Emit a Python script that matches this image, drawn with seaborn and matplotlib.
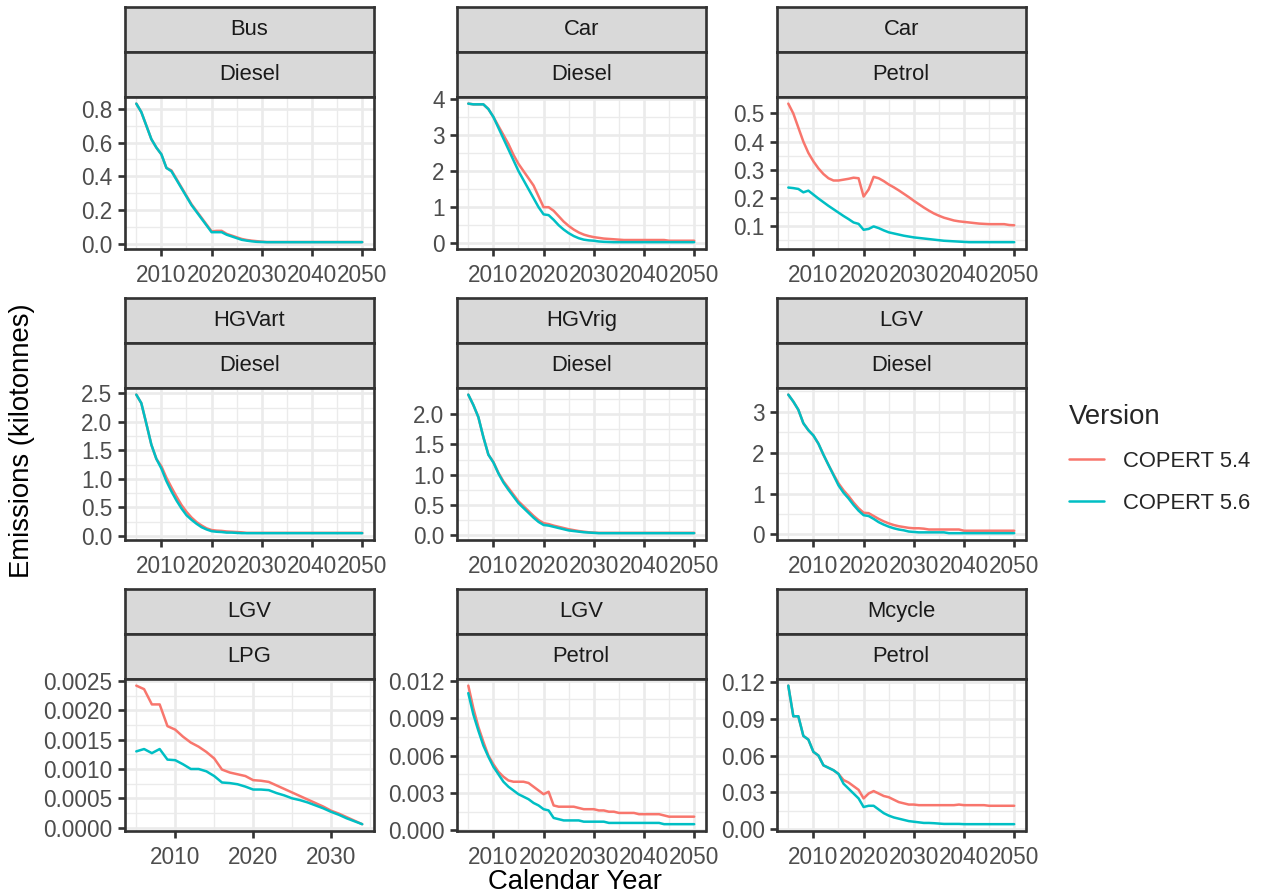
import matplotlib
matplotlib.use("Agg")
import matplotlib.pyplot as plt
import numpy as np
import pandas as pd
import seaborn as sns

YEARS = list(range(2005, 2051))
LPG_YEARS = list(range(2005, 2035))
VERSIONS = ["COPERT 5.4", "COPERT 5.6"]
PALETTE = {"COPERT 5.4": "#F8766D", "COPERT 5.6": "#00BFC4"}

bus_diesel_54 = [0.83, 0.78, 0.70, 0.62, 0.57, 0.53, 0.45, 0.435, 0.385, 0.335,
                 0.285, 0.235, 0.195, 0.155, 0.115, 0.075, 0.078, 0.078, 0.06, 0.05,
                 0.04, 0.03, 0.024, 0.02, 0.017, 0.014, 0.012, 0.012, 0.012, 0.012,
                 0.012, 0.012, 0.012, 0.012, 0.012, 0.012, 0.012, 0.012, 0.012, 0.012,
                 0.012, 0.012, 0.012, 0.012, 0.012, 0.012]
bus_diesel_56 = [0.83, 0.78, 0.70, 0.62, 0.57, 0.53, 0.45, 0.43, 0.38, 0.33,
                 0.28, 0.23, 0.19, 0.15, 0.11, 0.07, 0.07, 0.07, 0.055, 0.045,
                 0.035, 0.025, 0.02, 0.016, 0.013, 0.012, 0.011, 0.011, 0.011, 0.011,
                 0.011, 0.011, 0.011, 0.011, 0.011, 0.011, 0.011, 0.011, 0.011, 0.011,
                 0.011, 0.011, 0.011, 0.011, 0.011, 0.011]

car_diesel_54 = [3.87, 3.85, 3.85, 3.85, 3.72, 3.50, 3.25, 3.00, 2.75, 2.45,
                 2.20, 2.00, 1.80, 1.60, 1.30, 1.00, 1.00, 0.90, 0.75, 0.60,
                 0.48, 0.38, 0.30, 0.24, 0.20, 0.17, 0.15, 0.13, 0.12, 0.11,
                 0.10, 0.09, 0.09, 0.09, 0.09, 0.09, 0.09, 0.09, 0.09, 0.09,
                 0.07, 0.07, 0.07, 0.07, 0.07, 0.07]
car_diesel_56 = [3.87, 3.85, 3.85, 3.85, 3.72, 3.50, 3.20, 2.90, 2.60, 2.30,
                 2.00, 1.75, 1.50, 1.25, 1.00, 0.80, 0.78, 0.65, 0.50, 0.38,
                 0.28, 0.20, 0.14, 0.10, 0.08, 0.07, 0.05, 0.04, 0.035, 0.03,
                 0.03, 0.03, 0.03, 0.03, 0.03, 0.03, 0.03, 0.03, 0.03, 0.03,
                 0.03, 0.03, 0.03, 0.03, 0.03, 0.03]

car_petrol_54 = [0.535, 0.50, 0.45, 0.40, 0.36, 0.33, 0.305, 0.285, 0.27, 0.262,
                 0.262, 0.265, 0.268, 0.272, 0.27, 0.205, 0.23, 0.275, 0.27, 0.26,
                 0.248, 0.238, 0.227, 0.215, 0.203, 0.19, 0.178, 0.166, 0.155, 0.145,
                 0.137, 0.13, 0.125, 0.12, 0.117, 0.115, 0.113, 0.111, 0.109, 0.108,
                 0.107, 0.107, 0.107, 0.107, 0.104, 0.103]
car_petrol_56 = [0.237, 0.235, 0.232, 0.22, 0.226, 0.212, 0.198, 0.185, 0.172, 0.16,
                 0.148, 0.136, 0.125, 0.113, 0.108, 0.087, 0.09, 0.099, 0.093, 0.085,
                 0.078, 0.074, 0.07, 0.066, 0.063, 0.06, 0.058, 0.056, 0.054, 0.052,
                 0.05, 0.048, 0.047, 0.046, 0.045, 0.044, 0.043, 0.043, 0.043, 0.043,
                 0.043, 0.043, 0.043, 0.043, 0.043, 0.043]

hgvart_diesel_54 = [2.48, 2.33, 1.97, 1.60, 1.35, 1.22, 1.02, 0.85, 0.69, 0.54,
                    0.42, 0.32, 0.24, 0.18, 0.13, 0.10, 0.09, 0.085, 0.075, 0.07,
                    0.065, 0.06, 0.05, 0.05, 0.05, 0.05, 0.05, 0.05, 0.05, 0.05,
                    0.05, 0.05, 0.05, 0.05, 0.05, 0.05, 0.05, 0.05, 0.05, 0.05,
                    0.05, 0.05, 0.05, 0.05, 0.05, 0.05]
hgvart_diesel_56 = [2.48, 2.33, 1.97, 1.60, 1.35, 1.18, 0.96, 0.78, 0.62, 0.48,
                    0.36, 0.28, 0.21, 0.15, 0.11, 0.08, 0.07, 0.065, 0.055, 0.055,
                    0.05, 0.045, 0.045, 0.045, 0.045, 0.045, 0.045, 0.045, 0.045, 0.045,
                    0.045, 0.045, 0.045, 0.045, 0.045, 0.045, 0.045, 0.045, 0.045, 0.045,
                    0.045, 0.045, 0.045, 0.045, 0.045, 0.045]

hgvrig_diesel_54 = [2.32, 2.15, 1.95, 1.62, 1.33, 1.21, 1.03, 0.89, 0.78, 0.67,
                    0.56, 0.48, 0.40, 0.32, 0.25, 0.20, 0.185, 0.16, 0.14, 0.12,
                    0.10, 0.085, 0.07, 0.06, 0.05, 0.045, 0.04, 0.04, 0.04, 0.04,
                    0.04, 0.04, 0.04, 0.04, 0.04, 0.04, 0.04, 0.04, 0.04, 0.04,
                    0.04, 0.04, 0.04, 0.04, 0.04, 0.04]
hgvrig_diesel_56 = [2.32, 2.15, 1.95, 1.62, 1.33, 1.20, 1.02, 0.87, 0.75, 0.64,
                    0.53, 0.45, 0.37, 0.29, 0.22, 0.17, 0.16, 0.14, 0.12, 0.10,
                    0.08, 0.07, 0.06, 0.05, 0.045, 0.04, 0.035, 0.035, 0.035, 0.035,
                    0.035, 0.035, 0.035, 0.035, 0.035, 0.035, 0.035, 0.035, 0.035, 0.035,
                    0.035, 0.035, 0.035, 0.035, 0.035, 0.035]

lgv_diesel_54 = [3.42, 3.25, 3.05, 2.72, 2.55, 2.42, 2.22, 1.95, 1.70, 1.47,
                 1.25, 1.08, 0.94, 0.78, 0.64, 0.53, 0.52, 0.45, 0.38, 0.32,
                 0.27, 0.23, 0.20, 0.18, 0.16, 0.15, 0.15, 0.14, 0.12, 0.12,
                 0.12, 0.12, 0.12, 0.12, 0.12, 0.09, 0.09, 0.09, 0.09, 0.09,
                 0.09, 0.09, 0.09, 0.09, 0.09, 0.09]
lgv_diesel_56 = [3.42, 3.25, 3.05, 2.72, 2.55, 2.42, 2.22, 1.95, 1.70, 1.45,
                 1.20, 1.02, 0.88, 0.72, 0.58, 0.47, 0.45, 0.38, 0.30, 0.24,
                 0.19, 0.15, 0.12, 0.10, 0.07, 0.06, 0.05, 0.05, 0.05, 0.05,
                 0.05, 0.05, 0.03, 0.03, 0.03, 0.03, 0.03, 0.03, 0.03, 0.03,
                 0.03, 0.03, 0.03, 0.03, 0.03, 0.03]

lgv_lpg_54 = [0.00242, 0.00236, 0.0021, 0.0021, 0.00173, 0.00167, 0.00155, 0.00145, 0.00138, 0.00129,
              0.00118, 0.00099, 0.00094, 0.00091, 0.00088, 0.00081, 0.0008, 0.00078, 0.00072, 0.00066,
              0.0006, 0.00054, 0.00048, 0.00042, 0.00036, 0.00029, 0.00024, 0.00018, 0.00012, 0.00006]
lgv_lpg_56 = [0.0013, 0.00134, 0.00127, 0.00134, 0.00116, 0.00115, 0.00108, 0.001, 0.001, 0.00096,
              0.00088, 0.00077, 0.00076, 0.00074, 0.0007, 0.00065, 0.00065, 0.00064, 0.00059, 0.00055,
              0.0005, 0.00047, 0.00043, 0.00038, 0.00033, 0.00027, 0.00022, 0.00016, 0.00011, 0.00006]

lgv_petrol_54 = [0.0116, 0.0098, 0.0083, 0.0071, 0.0060, 0.0053, 0.0047, 0.0043, 0.0040, 0.0039,
                 0.0039, 0.0039, 0.0038, 0.0035, 0.0032, 0.0029, 0.0031, 0.0020, 0.0019, 0.0019,
                 0.0019, 0.0019, 0.0018, 0.0017, 0.0017, 0.0017, 0.0016, 0.0016, 0.0015, 0.0015,
                 0.0014, 0.0014, 0.0014, 0.0014, 0.0013, 0.0013, 0.0013, 0.0013, 0.0013, 0.0012,
                 0.0011, 0.0011, 0.0011, 0.0011, 0.0011, 0.0011]
lgv_petrol_56 = [0.0110, 0.0093, 0.0080, 0.0068, 0.0059, 0.0051, 0.0045, 0.0039, 0.0035, 0.0032,
                 0.0029, 0.0027, 0.0025, 0.0022, 0.0020, 0.0017, 0.0016, 0.0010, 0.0009, 0.0008,
                 0.0008, 0.0008, 0.0008, 0.0007, 0.0007, 0.0007, 0.0007, 0.0007, 0.0006, 0.0006,
                 0.0006, 0.0006, 0.0006, 0.0006, 0.0006, 0.0006, 0.0006, 0.0006, 0.0006, 0.0005,
                 0.0005, 0.0005, 0.0005, 0.0005, 0.0005, 0.0005]

mcycle_petrol_54 = [0.117, 0.092, 0.092, 0.076, 0.073, 0.063, 0.060, 0.052, 0.050, 0.048,
                    0.045, 0.040, 0.038, 0.035, 0.032, 0.025, 0.029, 0.031, 0.029, 0.027,
                    0.026, 0.024, 0.022, 0.021, 0.020, 0.020, 0.0195, 0.0195, 0.0195, 0.0195,
                    0.0195, 0.0195, 0.0195, 0.0195, 0.020, 0.0195, 0.0195, 0.0195, 0.0195, 0.0195,
                    0.019, 0.019, 0.019, 0.019, 0.019, 0.019]
mcycle_petrol_56 = [0.117, 0.092, 0.092, 0.076, 0.073, 0.063, 0.060, 0.052, 0.050, 0.048,
                    0.045, 0.037, 0.033, 0.029, 0.025, 0.018, 0.019, 0.019, 0.016, 0.013,
                    0.011, 0.0095, 0.0085, 0.0075, 0.0065, 0.006, 0.0055, 0.005, 0.005, 0.0048,
                    0.0045, 0.0042, 0.0042, 0.0042, 0.0042, 0.004, 0.004, 0.004, 0.004, 0.004,
                    0.004, 0.004, 0.004, 0.004, 0.004, 0.004]

# panel: (vehicle, fuel, years, v5.4, v5.6, y breaks, decimals, x breaks)
x_breaks = [2010, 2020, 2030, 2040, 2050]
panels = [
    ("Bus", "Diesel", YEARS, bus_diesel_54, bus_diesel_56, [0.0, 0.2, 0.4, 0.6, 0.8], 1, x_breaks),
    ("Car", "Diesel", YEARS, car_diesel_54, car_diesel_56, [0, 1, 2, 3, 4], 0, x_breaks),
    ("Car", "Petrol", YEARS, car_petrol_54, car_petrol_56, [0.1, 0.2, 0.3, 0.4, 0.5], 1, x_breaks),
    ("HGVart", "Diesel", YEARS, hgvart_diesel_54, hgvart_diesel_56, [0.0, 0.5, 1.0, 1.5, 2.0, 2.5], 1, x_breaks),
    ("HGVrig", "Diesel", YEARS, hgvrig_diesel_54, hgvrig_diesel_56, [0.0, 0.5, 1.0, 1.5, 2.0], 1, x_breaks),
    ("LGV", "Diesel", YEARS, lgv_diesel_54, lgv_diesel_56, [0, 1, 2, 3], 0, x_breaks),
    ("LGV", "LPG", LPG_YEARS, lgv_lpg_54, lgv_lpg_56,
     [0.0, 0.0005, 0.001, 0.0015, 0.002, 0.0025], 4, [2010, 2020, 2030]),
    ("LGV", "Petrol", YEARS, lgv_petrol_54, lgv_petrol_56,
     [0.0, 0.003, 0.006, 0.009, 0.012], 3, x_breaks),
    ("Mcycle", "Petrol", YEARS, mcycle_petrol_54, mcycle_petrol_56,
     [0.0, 0.03, 0.06, 0.09, 0.12], 2, x_breaks),
]

sns.set_theme(style="white")
plt.rcParams["font.family"] = ["Liberation Sans", "DejaVu Sans"]

W, H = 1263, 896
DPI = 180
fig = plt.figure(figsize=(W / DPI, H / DPI), dpi=DPI)
fig.patch.set_facecolor("white")

LW = 1.0
col_left = [125, 457, 777]
panel_w = 248.5
strip_top = [7.3, 298.3, 589.3]
strip_h = 44.7
panel_h = 152.4


def px_axes(x, y_top, w, h):
    return fig.add_axes([x / W, 1 - (y_top + h) / H, w / W, h / H])


def minor_breaks(b, lo, hi):
    step = b[1] - b[0]
    pts = [b[0] - step / 2] + [v + step / 2 for v in b]
    return [p for p in pts if lo <= p <= hi]


handles = None
for i, (veh, fuel, yrs, v54, v56, ybr, dec, xbr) in enumerate(panels):
    r, c = divmod(i, 3)
    x0 = col_left[c]
    top = strip_top[r]

    # two strips
    for k, lab in enumerate([veh, fuel]):
        sax = px_axes(x0, top + k * strip_h, panel_w, strip_h)
        sax.set_facecolor("#D9D9D9")
        sax.set_xticks([])
        sax.set_yticks([])
        for sp in sax.spines.values():
            sp.set_color("#333333")
            sp.set_linewidth(1.07)
        sax.text(0.5, 0.5, lab, ha="center", va="center", fontsize=8.8,
                 color="#1A1A1A", transform=sax.transAxes)

    ax = px_axes(x0, top + 2 * strip_h, panel_w, panel_h)
    df = pd.DataFrame({
        "Year": list(yrs) * 2,
        "Emissions": list(v54) + list(v56),
        "Version": [VERSIONS[0]] * len(yrs) + [VERSIONS[1]] * len(yrs),
    })
    sns.lineplot(data=df, x="Year", y="Emissions", hue="Version", hue_order=VERSIONS,
                 palette=PALETTE, estimator=None, linewidth=LW, ax=ax, legend=True)
    if handles is None:
        handles, labels = ax.get_legend_handles_labels()
    ax.get_legend().remove()

    # ggplot-like 5% expansion
    xmin, xmax = min(yrs), max(yrs)
    xpad = (xmax - xmin) * 0.05
    ymin, ymax = df["Emissions"].min(), df["Emissions"].max()
    ypad = (ymax - ymin) * 0.05
    ax.set_xlim(xmin - xpad, xmax + xpad)
    ax.set_ylim(ymin - ypad, ymax + ypad)

    ax.set_xticks(xbr)
    ax.set_xticklabels([str(v) for v in xbr])
    ax.set_xticks(minor_breaks(xbr, xmin - xpad, xmax + xpad), minor=True)
    ax.set_yticks(ybr)
    ax.set_yticklabels([f"{v:.{dec}f}" for v in ybr])
    ax.set_yticks(minor_breaks(ybr, ymin - ypad, ymax + ypad), minor=True)

    ax.set_axisbelow(True)
    ax.grid(which="major", color="#EBEBEB", linewidth=1.07)
    ax.grid(which="minor", color="#EBEBEB", linewidth=0.53)
    ax.tick_params(which="major", length=2.75, width=1.07, color="#333333",
                   labelsize=9.0, labelcolor="#4D4D4D", pad=2.2,
                   bottom=True, left=True)
    ax.tick_params(axis="x", which="major", pad=3.2)
    ax.tick_params(which="minor", length=0)
    for sp in ax.spines.values():
        sp.set_color("#333333")
        sp.set_linewidth(1.07)
    ax.set_xlabel("")
    ax.set_ylabel("")
    ax.set_facecolor("white")

fig.text(575 / W, 1 - 882 / H, "Calendar Year", ha="center", va="center",
         fontsize=11, color="black")
fig.text(22 / W, 1 - 441 / H, "Emissions (kilotonnes)", ha="center", va="center",
         rotation=90, fontsize=11, color="black")

fig.legend(handles, labels, title="Version", loc="upper left",
           bbox_to_anchor=(1060 / W, 1 - 395 / H), frameon=False,
           fontsize=8.8, title_fontsize=11, handlelength=1.6,
           handletextpad=0.85, labelspacing=0.95, alignment="left",
           borderaxespad=0)

fig.savefig("out.png", dpi=DPI)
